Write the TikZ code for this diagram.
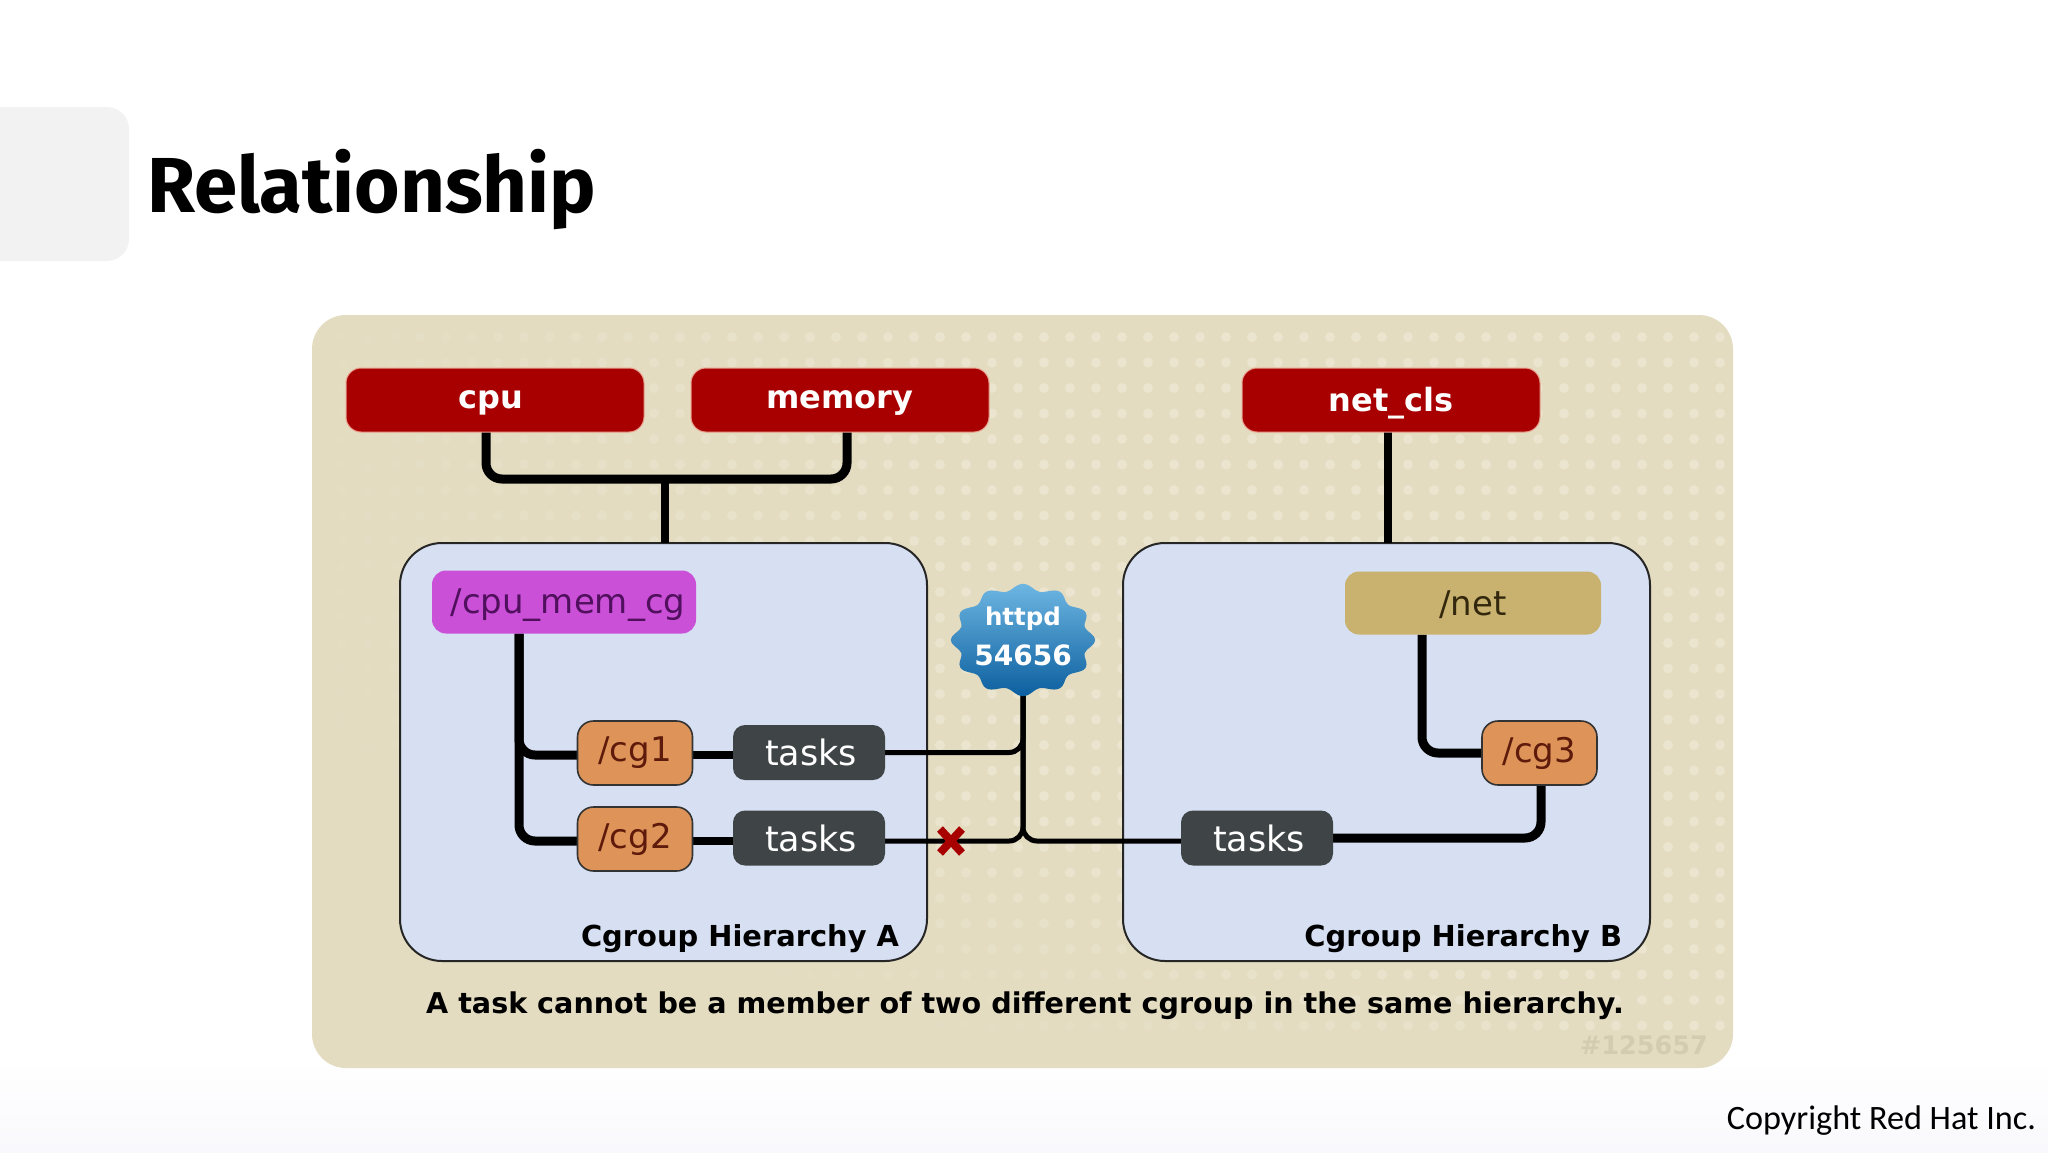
\documentclass[tikz,border=0pt]{standalone}
\usepackage{fontspec}
\setmainfont{DejaVu Sans}
\newfontfamily\titlefont{Fira Sans}
\newfontfamily\copyfont{Carlito}
\usetikzlibrary{calc}
\pgfdeclarelayer{bglayer}
\pgfdeclarelayer{midlayer}
\pgfsetlayers{bglayer,midlayer,main}
\definecolor{panelc}{HTML}{E3DCC1}
\definecolor{dotc}{HTML}{EBE5CF}
\definecolor{hierc}{HTML}{D6E0F2}
\definecolor{redc}{HTML}{A80000}
\definecolor{redhalo}{HTML}{E9A08E}
\definecolor{purplec}{HTML}{CB50D8}
\definecolor{purpletext}{HTML}{50105E}
\definecolor{orangec}{HTML}{DE9459}
\definecolor{orangetext}{HTML}{5E1A0A}
\definecolor{taskc}{HTML}{3F4447}
\definecolor{netc}{HTML}{C9B26F}
\definecolor{nettext}{HTML}{33280E}
\definecolor{blueA}{HTML}{6DB6E2}
\definecolor{blueB}{HTML}{1C86C8}
\definecolor{blueC}{HTML}{0C5F9F}
\definecolor{footc}{HTML}{F9F8FC}
\definecolor{wmc}{HTML}{D3CCB0}
\newcommand{\dn}[2]{\raisebox{0pt}[\dimexpr\height+#1pt+#1pt\relax][\depth]{#2}}
\tikzset{
  box/.style={rectangle,inner sep=0pt,outer sep=0pt,align=center},
  redbox/.style={box,fill=redc,draw=redhalo,line width=1pt,rounded corners=15pt,minimum width=298pt,minimum height=64pt,text=white,font=\fontsize{32}{38}\selectfont\bfseries},
  hier/.style={box,fill=hierc,draw=black!85,line width=2pt,rounded corners=42pt,minimum width=527pt,minimum height=418pt},
  grp/.style={box,rounded corners=14pt,minimum height=63pt,font=\fontsize{34}{40}\selectfont},
  cgbox/.style={box,fill=orangec,draw=black!80,line width=1.6pt,rounded corners=16pt,minimum width=115pt,minimum height=64pt,text=orangetext,font=\fontsize{34}{40}\selectfont},
  taskbox/.style={box,fill=taskc,rounded corners=12pt,minimum width=152pt,minimum height=55pt,text=white,font=\fontsize{35}{40}\selectfont},
  hiertext/.style={box,anchor=base east,text=black,font=\fontsize{28.9}{36}\selectfont\bfseries},
  thickline/.style={draw=black,line width=9pt,rounded corners=16pt},
  straightline/.style={draw=black,line width=8.5pt},
  thinline/.style={draw=black,line width=5pt,rounded corners=14pt},
  cross/.style={draw=redc,line width=8pt},
}
\begin{document}
\begin{tikzpicture}[x=1pt,y=-1pt]
\useasboundingbox (0,0) rectangle (2048,1152);
\begin{pgfonlayer}{bglayer}
  \shade[top color=white,bottom color=footc,draw=none] (0,1060) rectangle (2048,1152);
  \fill[black!5] (-30,107) [rounded corners=22pt] rectangle (129,261);
  \node[box,fill=panelc,rounded corners=34pt,minimum width=1421pt,minimum height=753pt] (panel) at (1022.5,691.5) {};
  \foreach \i in {0,...,53}{\foreach \j in {0,...,27}{
    \pgfmathsetmacro{\px}{342+26*\i}
    \pgfmathsetmacro{\py}{337+25.5*\j}
    \pgfmathsetmacro{\op}{max(0,min(1,(\px-250)/700))*max(0,min(1,(1040-\py)/250+(\px-900)/800))}
    \fill[dotc,opacity=\op] (\px,\py) circle (5pt);
  }}
  \node[hier] (ha) at (663.5,752) {};
  \node[hier] (hb) at (1386.5,752) {};
\end{pgfonlayer}

\node[box,anchor=base west,font=\fontsize{78}{90}\selectfont\titlefont\bfseries] (title) at (147,212) {Relationship};
\node[box,anchor=base east,font=\fontsize{34.2}{40}\selectfont\copyfont] (copyr) at (2036,1129) {Copyright Red Hat Inc.};

\node[redbox] (cpu) at (495,400) {\hspace*{-8pt}\dn{3}{cpu}};
\node[redbox] (memory) at (840,400) {\dn{3}{memory}};
\node[redbox] (netcls) at (1391,400) {\dn{3}{net\_cls}};

\node[grp,fill=purplec,text=purpletext,minimum width=264pt] (root) at (564,602) {\hspace*{8pt}\dn{3}{/cpu\_mem\_cg}};
\node[grp,fill=netc,text=nettext,minimum width=256pt] (net) at (1473,603) {\dn{2}{/net}};
\node[cgbox] (cga) at (635,753) {/cg1};
\node[cgbox] (cgb) at (635,839) {/cg2};
\node[cgbox] (cgc) at (1539.5,753) {/cg3};
\node[taskbox] (ta) at (809,752.5) {\hspace*{4pt}tasks};
\node[taskbox] (tb) at (809,838) {\hspace*{4pt}tasks};
\node[taskbox] (tc) at (1257,838) {\hspace*{4pt}tasks};

\coordinate (join) at (665,479);
\coordinate (crossc) at (951,841);

% httpd badge
\shade[top color=blueA,middle color=blueB,bottom color=blueC,draw=none]
  plot[smooth cycle,samples=96,domain=0:356.25,variable=\t] ({1023+68*(1+0.06*cos(12*\t))*cos(\t)},{640+53*(1+0.06*cos(12*\t))*sin(\t)});
\node[box,circle,minimum size=10pt,text=white] (httpd) at (1023,640) {};
\node[box,text=white,font=\fontsize{24.5}{38}\selectfont\bfseries] (hl1) at (1023,619) {httpd};
\node[box,text=white,font=\fontsize{28}{38}\selectfont\bfseries] (hl2) at (1023,655) {54656};
\coordinate (hs) at (1023,692);

\node[hiertext] (la) at (899,946) {Cgroup Hierarchy A};
\node[hiertext] (lb) at (1622,946) {Cgroup Hierarchy B};
\node[box,font=\fontsize{28.6}{36}\selectfont\bfseries] (cap) at (1025,1006) {A task cannot be a member of two different cgroup in the same hierarchy.};
\node[box,text=wmc,font=\fontsize{25.5}{30}\selectfont\bfseries] (wm) at (1644,1045) {\#125657};

\begin{pgfonlayer}{midlayer}
  \draw[thickline] ([xshift=-9pt]cpu.south) |- (join);
  \draw[thickline] ([xshift=7pt]memory.south) |- (join);
  \draw[straightline] (join) -- (join |- ha.north);
  \draw[straightline] ([xshift=-3pt]netcls.south) -- ([xshift=-3pt]netcls.south |- hb.north);
  \draw[thickline] ([xshift=-45pt]root.south) |- ([yshift=-2pt]cga.west);
  \draw[thickline] ([xshift=-45pt]root.south) |- ([yshift=-2pt]cgb.west);
  \draw[straightline] ([yshift=-2pt]cga.east) -- ([yshift=-2pt]cga.east -| ta.west);
  \draw[straightline] ([yshift=-2pt]cgb.east) -- ([yshift=-2pt]cgb.east -| tb.west);
  \draw[thinline] (ta.east) -| (hs);
  \draw[thinline] ([yshift=-3pt]tb.east) -| (hs);
  \draw[thinline] (hs) |- ([yshift=-3pt]tc.west);
  \draw[thickline] ([xshift=-51pt]net.south) |- (cgc.west);
  \draw[thickline] ([xshift=1.5pt]cgc.south) |- (tc.east);
  \draw[cross] ($(crossc)+(-11,-12)$) -- ($(crossc)+(11,12)$);
  \draw[cross] ($(crossc)+(-11,12)$) -- ($(crossc)+(11,-12)$);
\end{pgfonlayer}
\end{tikzpicture}
\end{document}
